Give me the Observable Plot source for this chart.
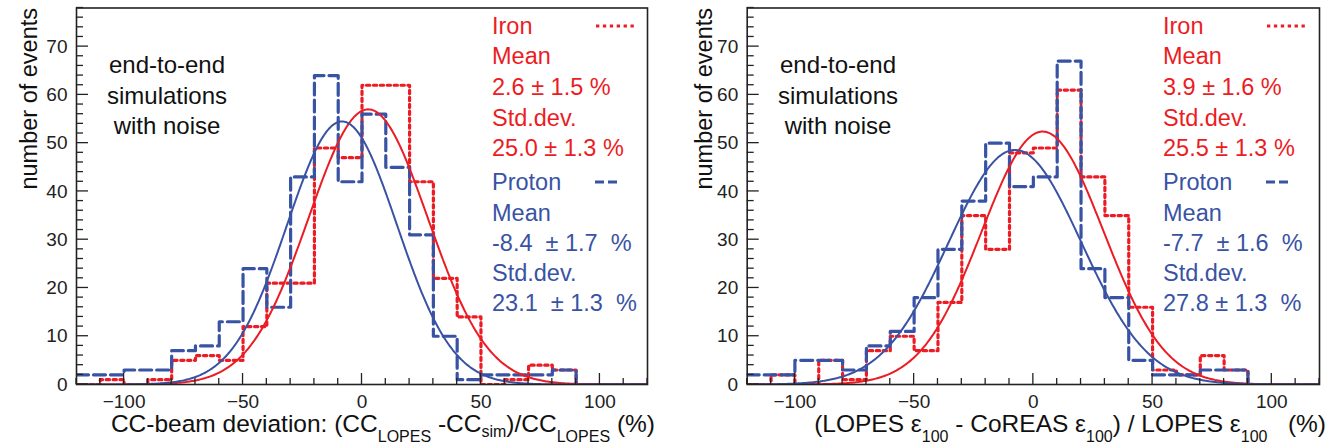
<!DOCTYPE html>
<html><head><meta charset="utf-8">
<script src="https://cdn.jsdelivr.net/npm/d3@7"></script>
<script src="https://cdn.jsdelivr.net/npm/@observablehq/plot@0.6"></script>
<style>
html,body{margin:0;padding:0;background:#fff;}
#wrap{position:relative;width:1335px;height:445px;overflow:hidden;background:#fff;}
#wrap svg{position:absolute;top:0;}
</style></head><body><div id="wrap"></div>
<script>
// ---------- data ----------
const binStarts = [-120,-110,-100,-90,-80,-70,-60,-50,-40,-30,-20,-10,0,10,20,30,40,50,60,70,80,90,100,110];
const binEnd = 120;
const leftIron    = [0,1,0,1,5,6,5,12,21,21,49,47,62,62,42,22,14,0,1,4,3,0,0,0];
const leftProton  = [2,2,3,3,7,8,13,24,16,43,64,42,56,45,31,10,1,2,2,2,3,0,0,0];
const rightIron   = [0,2,0,5,1,7,10,7,17,35,28,48,49,61,43,35,16,3,2,6,3,0,0,0];
const rightProton = [2,2,5,5,3,8,11,18,28,38,50,41,43,67,24,18,5,2,2,3,3,0,0,0];
// Gaussian fits: mean, sigma (from the legends), peak height
const leftIronFit    = [2.6, 25.0, 57.0];
const leftProtonFit  = [-8.4, 23.1, 54.5];
const rightIronFit   = [3.9, 25.5, 52.4];
const rightProtonFit = [-7.7, 27.8, 48.6];
const xTickLabels = [-100,-50,0,50,100];
const yTickLabels = [0,10,20,30,40,50,60,70];
const leftIronLegend    = ["Iron","Mean","2.6 ± 1.5 %","Std.dev.","25.0 ± 1.3 %"];
const leftProtonLegend  = ["Proton","Mean","-8.4  ± 1.7  %","Std.dev.","23.1  ± 1.3  %"];
const rightIronLegend   = ["Iron","Mean","3.9 ± 1.6 %","Std.dev.","25.5 ± 1.3 %"];
const rightProtonLegend = ["Proton","Mean","-7.7  ± 1.6  %","Std.dev.","27.8 ± 1.3  %"];
const noteLines = ["end-to-end","simulations","with noise"];
const yTitle = "number of events";

const RED = "#ec1c24", BLUE = "#3953a4";
const FONT = "'Liberation Sans', Arial, Helvetica, sans-serif";

function histPoints(counts) {
  const pts = binStarts.map((x, i) => ({x, y: counts[i]}));
  pts.push({x: binEnd, y: counts[counts.length - 1]});
  return pts;
}
function fitPoints([mean, sigma, peak]) {
  return d3.range(-120, 120.001, 0.5).map(x => ({x, y: peak * Math.exp(-0.5 * ((x - mean) / sigma) ** 2)}));
}

function panel(opts) {
  const {left, width, marginLeft, marginRight, iron, proton, ironFit, protonFit,
         ironLeg, protonLeg, legendX, noteX, yTitleX, titleParts, titleRight} = opts;
  const chart = Plot.plot({
    width, height: 445,
    marginLeft, marginRight, marginTop: 7.5, marginBottom: 61,
    style: {fontFamily: FONT, background: "transparent", overflow: "visible"},
    x: {domain: [-120, 120]},
    y: {domain: [0, 78]},
    marks: [
      Plot.line(histPoints(iron), {x: "x", y: "y", curve: "step-after", stroke: RED, strokeWidth: 3.2, strokeDasharray: "3.3,3.6", clip: true}),
      Plot.line(histPoints(proton), {x: "x", y: "y", curve: "step-after", stroke: BLUE, strokeWidth: 3.2, strokeDasharray: "12,5", clip: true}),
      Plot.line(fitPoints(ironFit), {x: "x", y: "y", stroke: RED, strokeWidth: 2, clip: true}),
      Plot.line(fitPoints(protonFit), {x: "x", y: "y", stroke: BLUE, strokeWidth: 2, clip: true}),
      Plot.axisX({ticks: xTickLabels, tickSize: 0, tickPadding: 10, fontSize: 19, label: null, fill: "#222"}),
      Plot.axisY({ticks: yTickLabels, tickSize: 0, tickPadding: 9, fontSize: 19, label: null, fill: "#222"}),
      Plot.frame({stroke: "#222", strokeWidth: 1.6})
    ]
  });
  chart.style.left = left + "px";
  const xd = chart.scale("x"), yd = chart.scale("y");
  const sx = d3.scaleLinear(xd.domain, xd.range), sy = d3.scaleLinear(yd.domain, yd.range);
  const svg = d3.select(chart);
  const g = svg.append("g").attr("stroke", "#222").attr("stroke-width", 1.3);
  // y ticks (inward)
  for (let v = 0; v <= 78; v += 2) {
    const len = v % 10 === 0 ? 12 : 7;
    g.append("line").attr("x1", sx(-120)).attr("x2", sx(-120) + len).attr("y1", sy(v)).attr("y2", sy(v));
  }
  // x ticks (inward)
  for (let v = -120; v <= 120; v += 10) {
    const len = xTickLabels.includes(v) ? 11 : 6;
    g.append("line").attr("x1", sx(v)).attr("x2", sx(v)).attr("y1", sy(0)).attr("y2", sy(0) - len);
  }
  const T = svg.append("g").attr("font-family", FONT).attr("text-anchor", "start");
  // annotation
  noteLines.forEach((s, i) => {
    T.append("text").attr("x", noteX).attr("y", 73 + i * 30.5).attr("text-anchor", "middle")
      .attr("font-size", 24).attr("fill", "#111").text(s);
  });
  // legend
  const ironY = [34, 64, 95, 126, 156], protY = [190, 221, 251, 281, 311];
  ironLeg.forEach((s, i) => T.append("text").attr("x", legendX).attr("y", ironY[i]).attr("font-size", 23.5)
    .attr("text-anchor", "start").attr("fill", RED).style("white-space", "pre").text(s));
  protonLeg.forEach((s, i) => T.append("text").attr("x", legendX).attr("y", protY[i]).attr("font-size", 23.5)
    .attr("text-anchor", "start").attr("fill", BLUE).style("white-space", "pre").text(s));
  T.append("line").attr("x1", legendX + 104).attr("x2", legendX + 144).attr("y1", 26).attr("y2", 26)
    .attr("stroke", RED).attr("stroke-width", 3.2).attr("stroke-dasharray", "3.3,3.6");
  T.append("line").attr("x1", legendX + 103).attr("x2", legendX + 125).attr("y1", 182).attr("y2", 182)
    .attr("stroke", BLUE).attr("stroke-width", 3.2).attr("stroke-dasharray", "9,4");
  // y title
  T.append("text").attr("transform", `translate(${yTitleX},8) rotate(-90)`).attr("text-anchor", "end")
    .attr("font-size", 23.5).attr("fill", "#111").text(yTitle);
  // x title with subscripts
  const t = T.append("text").attr("x", titleRight).attr("y", 432).attr("text-anchor", "end")
    .attr("font-size", 24.5).attr("fill", "#111").style("white-space", "pre");
  titleParts.forEach(([s, isSub, dy]) => {
    const ts = t.append("tspan").text(s);
    if (isSub) ts.attr("font-size", 16);
    if (dy) ts.attr("dy", dy);
  });
  document.getElementById("wrap").appendChild(chart);
}

panel({left: 0, width: 667, marginLeft: 76, marginRight: 20,
  iron: leftIron, proton: leftProton, ironFit: leftIronFit, protonFit: leftProtonFit,
  ironLeg: leftIronLegend, protonLeg: leftProtonLegend, legendX: 492, noteX: 167, yTitleX: 37,
  titleRight: 655,
  titleParts: [["CC-beam deviation: (CC"], ["LOPES", true, 10], [" -CC", false, -10], ["sim", true, 5], [")/CC", false, -5], ["LOPES", true, 10], [" (%)", false, -10]]});

panel({left: 668, width: 667, marginLeft: 78.7, marginRight: 16,
  iron: rightIron, proton: rightProton, ironFit: rightIronFit, protonFit: rightProtonFit,
  ironLeg: rightIronLegend, protonLeg: rightProtonLegend, legendX: 495, noteX: 170, yTitleX: 44,
  titleRight: 658,
  titleParts: [["(LOPES ε"], ["100", true, 10], [" - CoREAS ε", false, -10], ["100", true, 10], [") / LOPES ε", false, -10], ["100", true, 10], ["   (%)", false, -10]]});
</script></body></html>
